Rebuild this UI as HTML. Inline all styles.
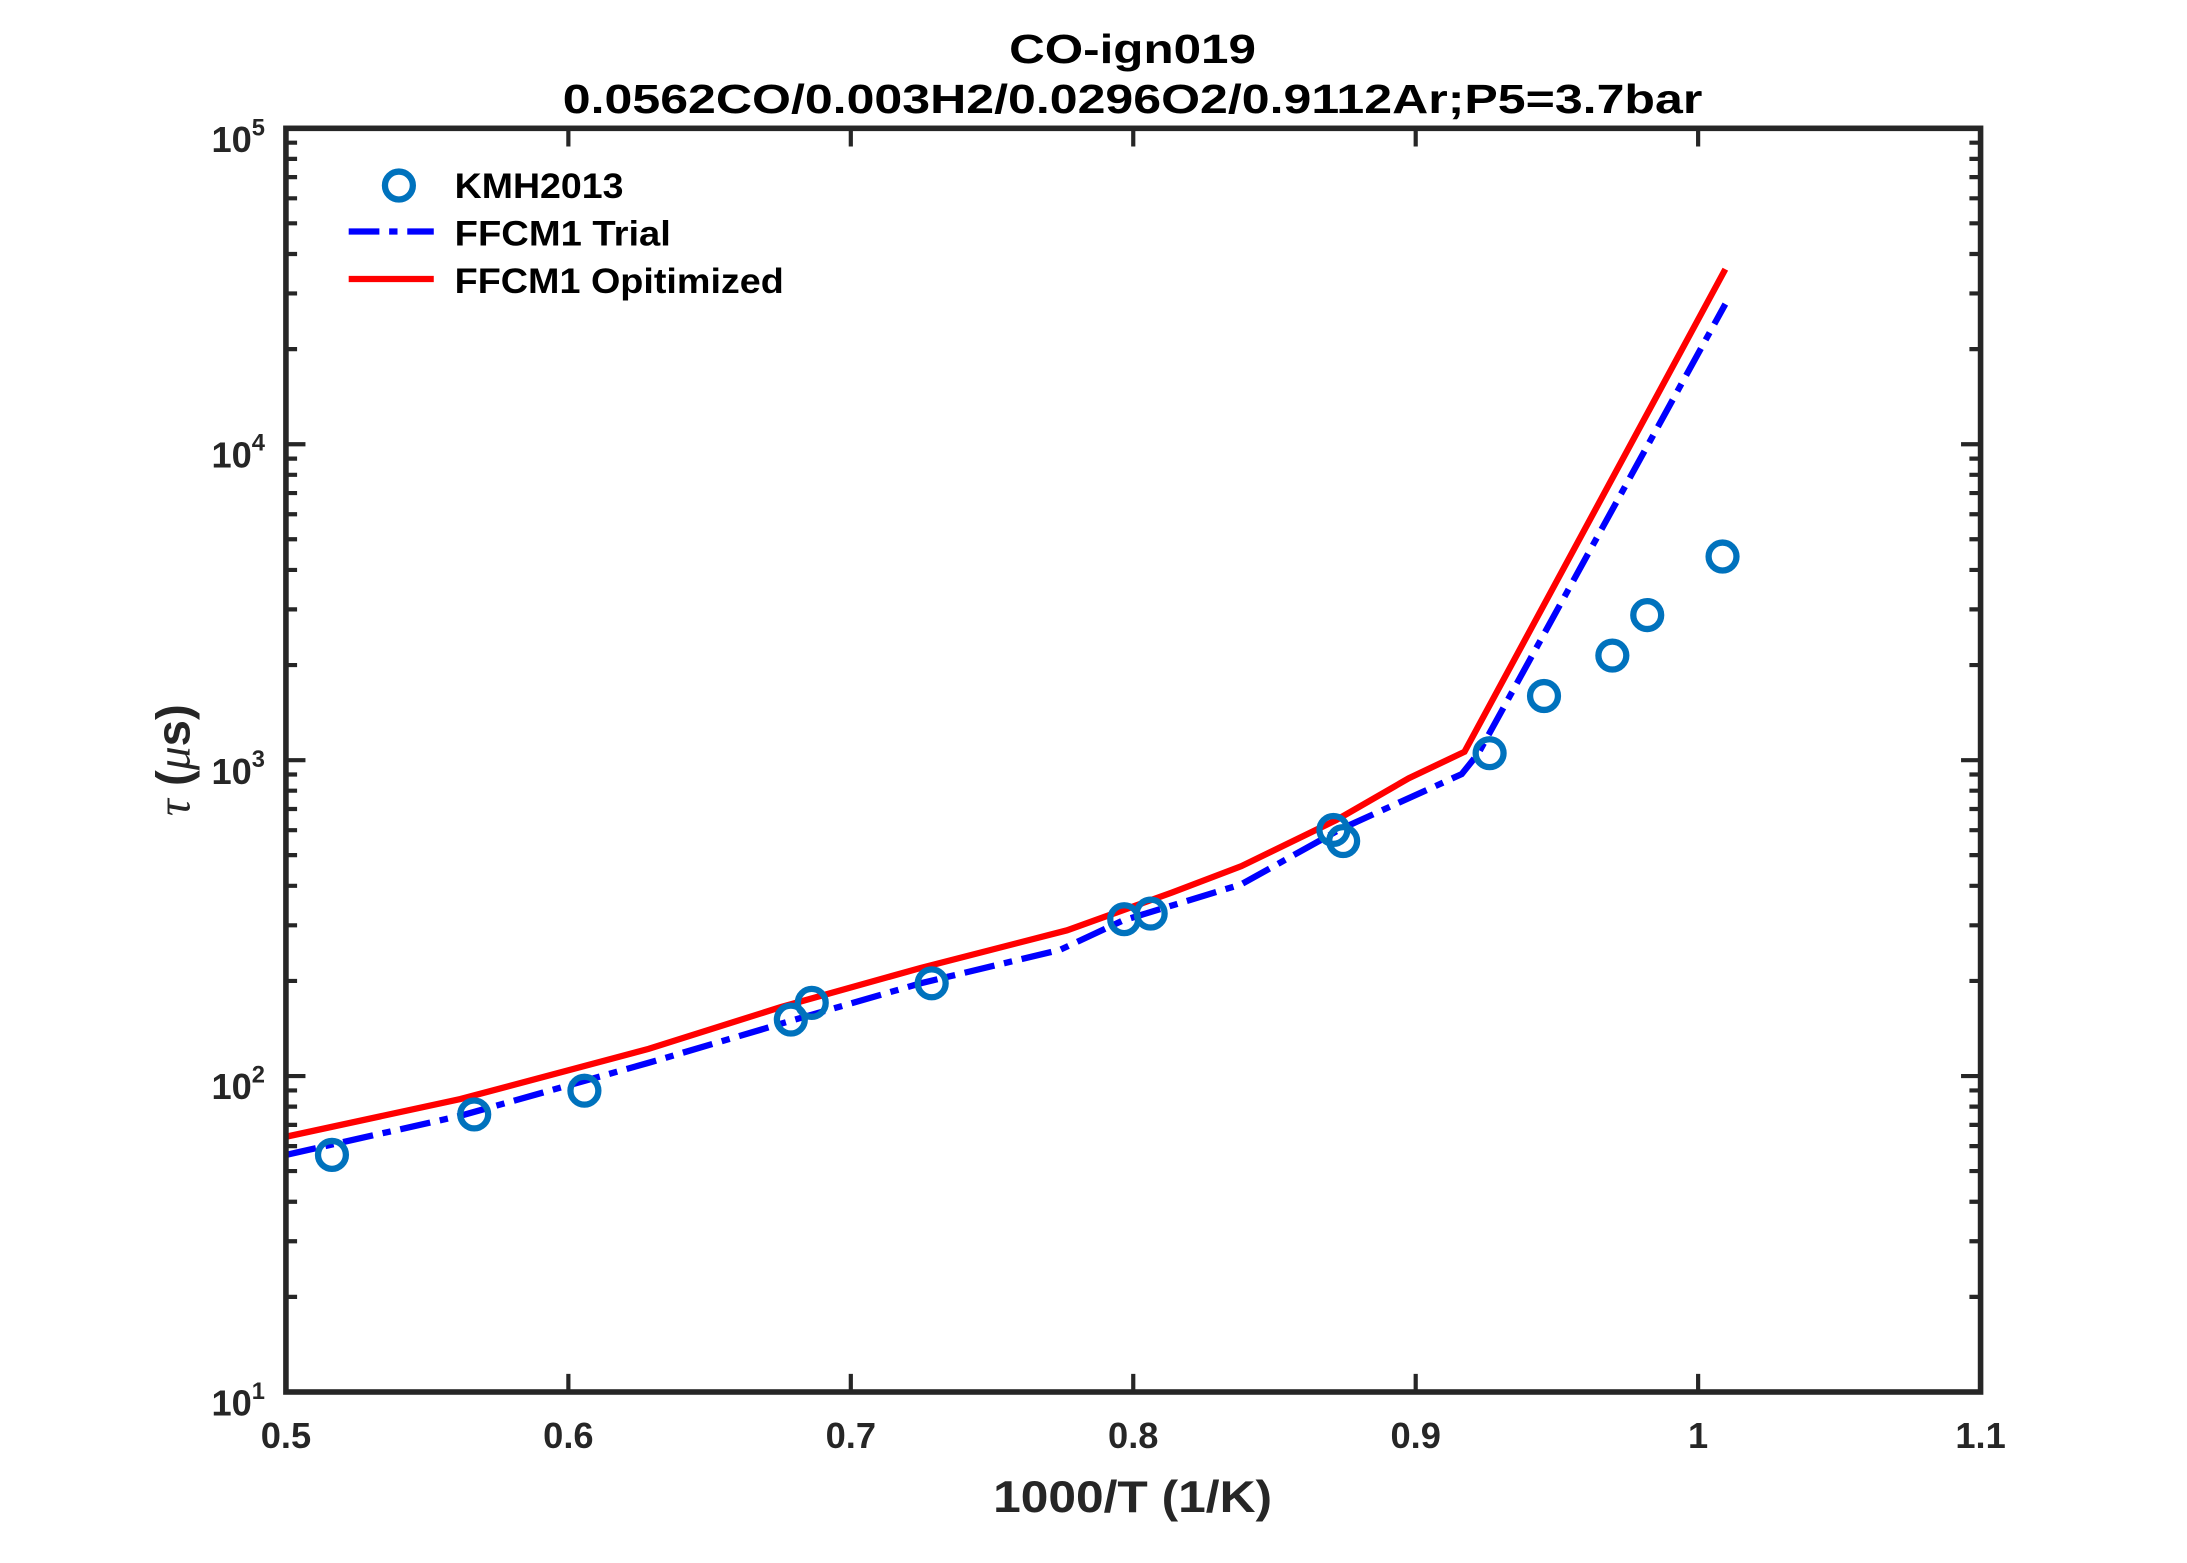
<!DOCTYPE html>
<html><head><meta charset="utf-8"><style>html,body{margin:0;padding:0;background:#fff}svg{display:block}text{font-family:"Liberation Sans",sans-serif;font-weight:bold;fill:#262626}</style></head><body>
<svg width="2187" height="1563" viewBox="0 0 1568 1120.6" preserveAspectRatio="none" xmlns="http://www.w3.org/2000/svg">
<rect width="1568" height="1121" fill="#fff"/>
<g id="ticks" stroke="#262626" stroke-width="3" fill="none">
<path d="M407.5 998v-13M610 998v-13M812.5 998v-13M1015 998v-13M1217.5 998v-13M407.5 92v13M610 92v13M812.5 92v13M1015 92v13M1217.5 92v13"/>
<path d="M205 92h14M205 318.5h14M205 545h14M205 771.5h14M1420 92h-14M1420 318.5h-14M1420 545h-14M1420 771.5h-14"/>
<path d="M205 929.8h8M205 889.9h8M205 861.6h8M205 839.6h8M205 821.7h8M205 806.5h8M205 793.4h8M205 781.8h8
M205 703.3h8M205 663.4h8M205 635.1h8M205 613.1h8M205 595.2h8M205 580h8M205 566.9h8M205 555.3h8
M205 476.8h8M205 436.9h8M205 408.6h8M205 386.6h8M205 368.7h8M205 353.5h8M205 340.4h8M205 328.8h8
M205 250.3h8M205 210.4h8M205 182.1h8M205 160.1h8M205 142.2h8M205 127h8M205 113.9h8M205 102.3h8
M1420 929.8h-8M1420 889.9h-8M1420 861.6h-8M1420 839.6h-8M1420 821.7h-8M1420 806.5h-8M1420 793.4h-8M1420 781.8h-8
M1420 703.3h-8M1420 663.4h-8M1420 635.1h-8M1420 613.1h-8M1420 595.2h-8M1420 580h-8M1420 566.9h-8M1420 555.3h-8
M1420 476.8h-8M1420 436.9h-8M1420 408.6h-8M1420 386.6h-8M1420 368.7h-8M1420 353.5h-8M1420 340.4h-8M1420 328.8h-8
M1420 250.3h-8M1420 210.4h-8M1420 182.1h-8M1420 160.1h-8M1420 142.2h-8M1420 127h-8M1420 113.9h-8M1420 102.3h-8"/>
</g>
<polyline fill="none" stroke="#0000ff" stroke-width="4.5" stroke-dasharray="22,7,6,7" points="205,828 330,800 465,762 570,731 660,705 760,681 805,660 890,634 960,595 1048,555 1060,540 1237,218"/>
<polyline fill="none" stroke="#ff0000" stroke-width="4.5" points="205,815 330,788 465,752 560,722 660,694 765,667 840,640 890,621 958,588 1010,558 1050,539 1237,193"/>
<g fill="none" stroke="#0072BD" stroke-width="4.5">
<circle cx="238" cy="828" r="10"/><circle cx="340" cy="799" r="10"/><circle cx="419" cy="782" r="10"/>
<circle cx="567" cy="731" r="10"/><circle cx="582" cy="719" r="10"/><circle cx="668" cy="705" r="10"/>
<circle cx="806" cy="659" r="10"/><circle cx="825" cy="655" r="10"/><circle cx="956" cy="595" r="10"/>
<circle cx="963" cy="603" r="10"/><circle cx="1068" cy="540" r="10"/><circle cx="1107" cy="499" r="10"/>
<circle cx="1156" cy="470" r="10"/><circle cx="1181" cy="441" r="10"/><circle cx="1235" cy="399" r="10"/>
<circle cx="286" cy="133" r="10"/>
</g>
<rect x="205" y="92" width="1215" height="906" fill="none" stroke="#262626" stroke-width="4"/>
<line x1="250" y1="166" x2="311" y2="166" stroke="#0000ff" stroke-width="4.5" stroke-dasharray="22,7,6,7"/>
<line x1="250" y1="200" x2="311" y2="200" stroke="#ff0000" stroke-width="4.5"/>
<g font-size="25" style="fill:#000">
<text x="326" y="142" textLength="121" lengthAdjust="spacingAndGlyphs" style="fill:#000">KMH2013</text>
<text x="326" y="176" textLength="155" lengthAdjust="spacingAndGlyphs" style="fill:#000">FFCM1 Trial</text>
<text x="326" y="210" textLength="236" lengthAdjust="spacingAndGlyphs" style="fill:#000">FFCM1 Opitimized</text></g>
<g font-size="26" text-anchor="middle">
<text x="205" y="1038">0.5</text><text x="407.5" y="1038">0.6</text><text x="610" y="1038">0.7</text><text x="812.5" y="1038">0.8</text><text x="1015" y="1038">0.9</text><text x="1217.5" y="1038">1</text><text x="1420" y="1038">1.1</text>
</g>
<g font-size="26" text-anchor="end">
<text x="190" y="109">10<tspan font-size="17" dy="-12">5</tspan></text>
<text x="190" y="335">10<tspan font-size="17" dy="-12">4</tspan></text>
<text x="190" y="562">10<tspan font-size="17" dy="-12">3</tspan></text>
<text x="190" y="788">10<tspan font-size="17" dy="-12">2</tspan></text>
<text x="190" y="1015">10<tspan font-size="17" dy="-12">1</tspan></text>
</g>
<text x="812" y="1084" font-size="32" text-anchor="middle" textLength="200" lengthAdjust="spacingAndGlyphs">1000/T (1/K)</text>
<text transform="translate(136,545) rotate(-90)" font-size="34" text-anchor="middle"><tspan font-style="italic" font-weight="normal" font-family="Liberation Serif,serif">τ</tspan> (<tspan font-family="Liberation Serif,serif" font-style="italic" font-weight="normal">μ</tspan>s)</text>
<text x="812" y="45" font-size="29" text-anchor="middle" textLength="177" lengthAdjust="spacingAndGlyphs" style="fill:#000">CO-ign019</text>
<text x="812" y="81" font-size="29" text-anchor="middle" textLength="817" lengthAdjust="spacingAndGlyphs" style="fill:#000">0.0562CO/0.003H2/0.0296O2/0.9112Ar;P5=3.7bar</text>
</svg>
</body></html>
